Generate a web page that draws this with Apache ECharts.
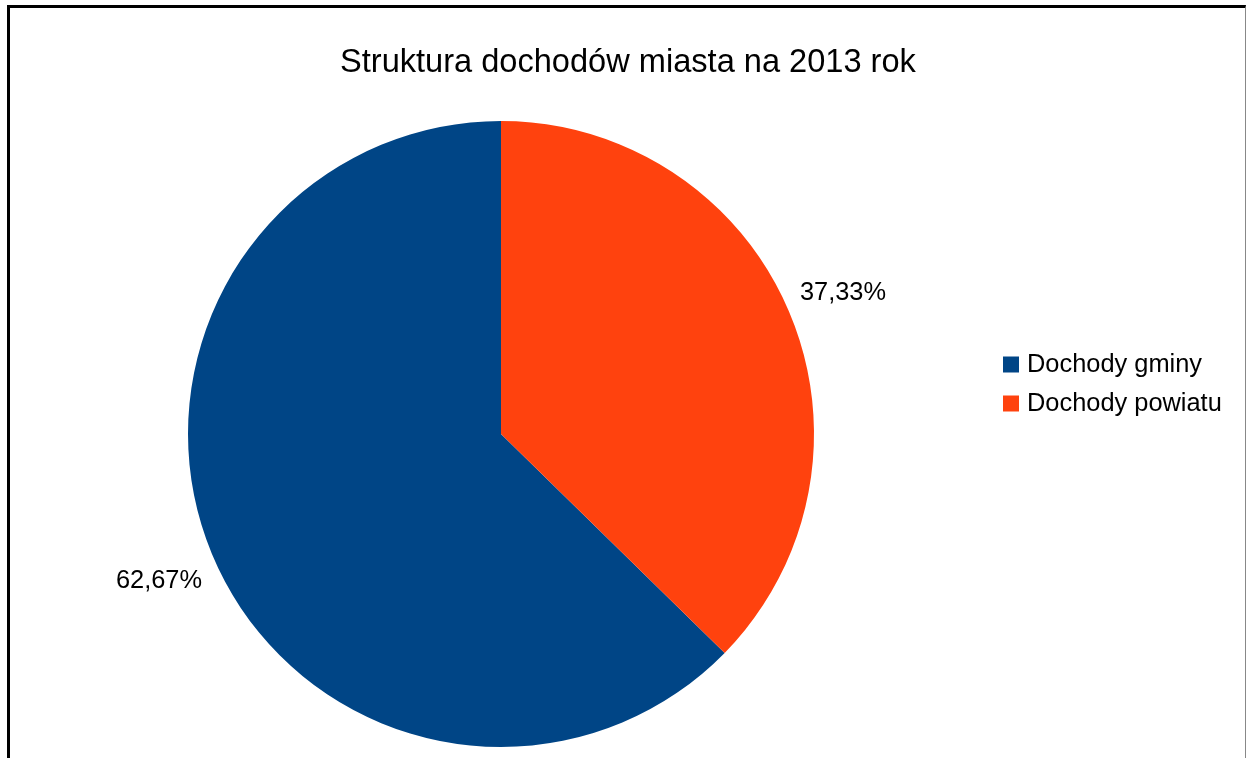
<!DOCTYPE html>
<html>
<head>
<meta charset="utf-8">
<script src="https://cdn.jsdelivr.net/npm/echarts@6/dist/echarts.min.js"></script>
<style>
  html, body { margin: 0; padding: 0; background: #ffffff; }
  #frame { position: absolute; left: 7px; top: 5px; width: 1235px; height: 760px;
           border-left: 3px solid #000; border-top: 3px solid #000; border-right: 1px solid #888; }
  #chart { position: absolute; left: 0; top: 0; width: 1247px; height: 758px; }
</style>
</head>
<body>
<div id="frame"></div>
<div id="chart"></div>
<script>
var chartTitle = 'Struktura dochodów miasta na 2013 rok';
var categories = ['Dochody gminy', 'Dochody powiatu'];
var values = [62.67, 37.33];
var colors = ['#004586', '#ff420e'];

var chart = echarts.init(document.getElementById('chart'));
var data = categories.map(function (c, i) { return { name: c, value: values[i] }; });
var font = 'Liberation Sans, Arial, sans-serif';

chart.setOption({
  animation: false,
  backgroundColor: 'transparent',
  color: colors,
  title: {
    text: chartTitle,
    left: 340,
    top: 47,
    padding: 0,
    textStyle: { fontFamily: font, fontSize: 32.6, fontWeight: 'normal', color: '#000' }
  },
  legend: {
    orient: 'vertical',
    left: 1003,
    top: 352,
    padding: 0,
    itemWidth: 16,
    itemHeight: 16,
    itemGap: 14,
    icon: 'rect',
    textStyle: { fontFamily: font, fontSize: 25.4, color: '#000', padding: [0, 0, 0, 3] },
    data: categories
  },
  series: [{
    type: 'pie',
    center: [501, 434],
    radius: 313,
    startAngle: 90,
    clockwise: false,
    avoidLabelOverlap: false,
    itemStyle: { borderWidth: 0 },
    label: {
      show: true,
      position: 'outside',
      distanceToLabelLine: 0,
      fontFamily: font,
      fontSize: 25.4,
      color: '#000',
      formatter: function (p) { return p.value.toFixed(2).replace('.', ',') + '%'; }
    },
    labelLine: { show: false, length: 58, length2: 0 },
    labelLayout: function (params) {
      var w = params.labelRect.width;
      return { dx: params.align === 'left' ? -w / 2 : (params.align === 'right' ? w / 2 : 0), dy: 3 };
    },
    emphasis: { disabled: true },
    data: data
  }]
});
</script>
</body>
</html>
